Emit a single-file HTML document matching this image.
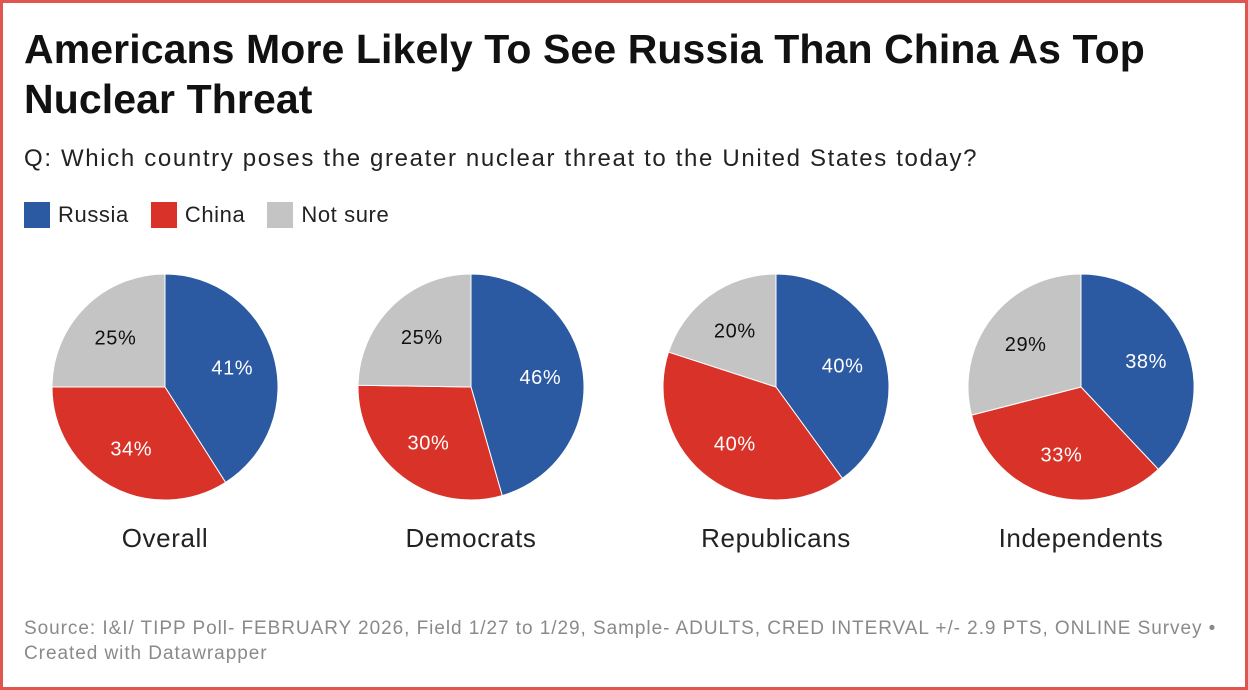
<!DOCTYPE html>
<html><head><meta charset="utf-8"><style>
body{margin:0;width:1248px;height:690px;overflow:hidden;background:#fff;font-family:"Liberation Sans",sans-serif;}
#frame{position:absolute;left:0;top:0;width:1242px;height:684px;border:3px solid #e0564e;}
.t{position:absolute;left:24px;}
</style></head><body>
<div id="frame"></div>
<div class="t" style="top:24px;width:1160px;font-size:41px;font-weight:bold;line-height:50px;color:#111;letter-spacing:0.1px">Americans More Likely To See Russia Than China As Top Nuclear Threat</div>
<div class="t" style="top:145px;font-size:24px;letter-spacing:1.65px;color:#222;white-space:nowrap">Q: Which country poses the greater nuclear threat to the United States today?</div>
<div class="t" style="top:202px;font-size:22px;letter-spacing:0.6px;color:#222;display:flex;align-items:center">
<span style="display:flex;align-items:center;margin-right:22px"><span style="width:26px;height:26px;background:#2b5aa3;margin-right:8px"></span>Russia</span>
<span style="display:flex;align-items:center;margin-right:22px"><span style="width:26px;height:26px;background:#d93228;margin-right:8px"></span>China</span>
<span style="display:flex;align-items:center"><span style="width:26px;height:26px;background:#c4c4c4;margin-right:8px"></span>Not sure</span>
</div>
<svg id="pies" width="1248" height="690" style="position:absolute;left:0;top:0"></svg>
<div class="t" style="top:616px;font-size:19px;letter-spacing:0.95px;line-height:25px;color:#8a8a8a;white-space:nowrap">Source: I&amp;I/ TIPP Poll- FEBRUARY 2026, Field 1/27 to 1/29, Sample- ADULTS, CRED INTERVAL +/- 2.9 PTS, ONLINE Survey •<br>Created with Datawrapper</div>
<script>
const groups=["Overall","Democrats","Republicans","Independents"];
const russia=[41,46,40,38];
const china=[34,30,40,33];
const notSure=[25,25,20,29];
const svg=document.getElementById('pies');
const NS="http://www.w3.org/2000/svg";
const cxs=[165,471,776,1081], cy=387, R=113;
const colors=["#2b5aa3","#d93228","#c4c4c4"], tcol=["#fff","#fff","#111"];
const names=["russia","china","not-sure"];
function pt(cx,a,r){return [cx+r*Math.sin(a),cy-r*Math.cos(a)];}
groups.forEach((g,i)=>{
  const vals=[russia[i],china[i],notSure[i]];
  const tot=vals.reduce((a,b)=>a+b,0);
  let a0=0;
  vals.forEach((v,k)=>{
    const a1=a0+v/tot*2*Math.PI;
    const p0=pt(cxs[i],a0,R),p1=pt(cxs[i],a1,R);
    const path=document.createElementNS(NS,'path');
    path.setAttribute('d',`M${cxs[i]},${cy}L${p0[0]},${p0[1]}A${R},${R} 0 ${a1-a0>Math.PI?1:0} 1 ${p1[0]},${p1[1]}Z`);
    path.setAttribute('fill',colors[k]);path.setAttribute('stroke','#fff');path.setAttribute('stroke-width','1');
    
    
    svg.appendChild(path);
    const m=(a0+a1)/2, lp=pt(cxs[i],m,R*0.62);
    const t=document.createElementNS(NS,'text');
    t.setAttribute('x',lp[0]);t.setAttribute('y',lp[1]+7);t.setAttribute('text-anchor','middle');
    t.setAttribute('font-size','20');t.setAttribute('letter-spacing','0.6');t.setAttribute('fill',tcol[k]);t.setAttribute('font-family','Liberation Sans, sans-serif');
    t.textContent=v+'%';
    
    
    svg.appendChild(t);
    a0=a1;
  });
  const lab=document.createElementNS(NS,'text');
  lab.setAttribute('x',cxs[i]);lab.setAttribute('y',547);lab.setAttribute('text-anchor','middle');
  lab.setAttribute('font-size','26');lab.setAttribute('letter-spacing','0.6');lab.setAttribute('fill','#222');lab.setAttribute('font-family','Liberation Sans, sans-serif');
  lab.textContent=g;
  
  
  svg.appendChild(lab);
});
</script>
</body></html>
